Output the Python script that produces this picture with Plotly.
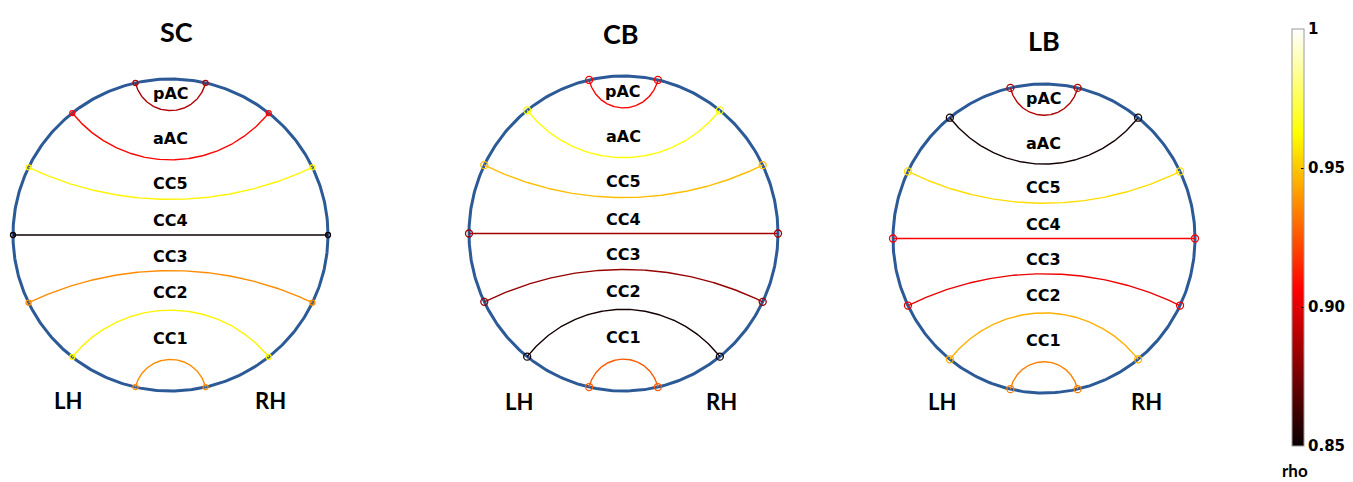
import numpy as np
import plotly.graph_objects as go
from plotly.colors import sample_colorscale

# ---------------- data ----------------
panels = ["SC", "CB", "LB"]
connections = ["pAC", "aAC", "CC5", "CC4", "CC3", "CC2", "CC1"]
rho_SC = [0.888, 0.907, 0.960, 0.850, 0.937, 0.960, 0.937]
rho_CB = [0.907, 0.963, 0.948, 0.885, 0.882, 0.852, 0.926]
rho_LB = [0.888, 0.852, 0.955, 0.905, 0.902, 0.945, 0.934]
rho_values = [rho_SC, rho_CB, rho_LB]
hemispheres = ["LH", "RH"]
cbar_ticks = [0.85, 0.90, 0.95, 1.0]
cbar_ticktext = ["0.85", "0.90", "0.95", "1"]
RHO_MIN, RHO_MAX = 0.85, 1.0

# ---------------- styling / layout ----------------
W, H = 1353, 482
OFF = 8  # page body margin in the browser
hot = [[0.0, "rgb(10,0,0)"], [0.375, "rgb(255,0,0)"], [0.75, "rgb(255,255,0)"], [1.0, "rgb(255,255,255)"]]
# pixel geometry of each panel (page pixels): centre x, centre y, radius x, radius y
geom = [(170.5, 235.0, 157.5, 156.0), (623.5, 233.5, 154.5, 157.5), (1044.0, 238.5, 151.0, 154.5)]
title_px = [(176, 31), (621, 33), (1044, 41)]
hemi_px = [((68, 400), (270, 400)), ((519, 401), (721, 401)), ((942, 401), (1146, 401))]
label_frac = [0.904, 0.617, 0.33, 0.09, -0.135, -0.367, -0.661]
S = 1.025
FONT_T = "Lato, 'DejaVu Sans', sans-serif"
FONT_L = "'DejaVu Sans', Verdana, sans-serif"


def px2paper(x, y):
    return min(max((x - OFF) / W, 0.0), 1.0), min(max(1 - (y - OFF) / H, 0.0), 1.0)


def color_of(v):
    return sample_colorscale(hot, [(v - RHO_MIN) / (RHO_MAX - RHO_MIN)])[0]


def chord(alpha):
    """geodesic (orthogonal-circle) arc joining (-sin a, cos a) and (sin a, cos a)"""
    if abs(np.cos(alpha)) < 1e-9:
        return np.array([-1.0, 1.0]), np.array([0.0, 0.0])
    c = 1.0 / np.cos(alpha)
    r = abs(np.tan(alpha))
    lx, ly = -np.sin(alpha), np.cos(alpha) - c
    rx_, ry_ = np.sin(alpha), np.cos(alpha) - c
    t1, t2 = np.arctan2(ly, lx), np.arctan2(ry_, rx_)
    t = np.linspace(t1, t2, 200)
    return r * np.cos(t), c + r * np.sin(t)


fig = go.Figure()
n = len(connections)
theta = np.linspace(0, 2 * np.pi, 400)
annotations = []

for i, name in enumerate(panels):
    ax = "" if i == 0 else str(i + 1)
    cx, cy, rx, ry = geom[i]
    x0, y1 = px2paper(cx - rx * S, cy - ry * S)
    x1, y0 = px2paper(cx + rx * S, cy + ry * S)
    fig.update_layout(**{
        f"xaxis{ax}": dict(domain=[x0, x1], range=[-S, S], visible=False, fixedrange=True, anchor=f"y{ax}"),
        f"yaxis{ax}": dict(domain=[y0, y1], range=[-S, S], visible=False, fixedrange=True, anchor=f"x{ax}"),
    })
    xr, yr = f"x{ax}", f"y{ax}"

    # outer circle
    fig.add_trace(go.Scatter(x=np.cos(theta), y=np.sin(theta), mode="lines",
                             line=dict(color="#2c5a97", width=3), hoverinfo="skip",
                             xaxis=xr, yaxis=yr))
    for k, conn in enumerate(connections):
        a = (k + 0.5) * np.pi / n
        xs, ys = chord(a)
        col = color_of(rho_values[i][k])
        fig.add_trace(go.Scatter(x=xs, y=ys, mode="lines", line=dict(color=col, width=1.4),
                                 name=f"{name} {conn}", hovertext=f"{conn}: rho={rho_values[i][k]}",
                                 hoverinfo="text", xaxis=xr, yaxis=yr))
        fig.add_trace(go.Scatter(x=[xs[0], xs[-1]], y=[ys[0], ys[-1]], mode="markers",
                                 marker=dict(symbol="circle-open", size=7 if i else 5,
                                             color=col, line=dict(width=1.3, color=col)),
                                 cliponaxis=False, hoverinfo="skip", xaxis=xr, yaxis=yr))
        annotations.append(dict(x=0, y=label_frac[k], xref=xr, yref=yr, text=f"<b>{conn}</b>",
                                xanchor="center", yanchor="middle", showarrow=False,
                                font=dict(family=FONT_L, size=16, color="black")))
    tx, ty = px2paper(*title_px[i])
    annotations.append(dict(x=tx, y=ty, xref="paper", yref="paper", text=f"<b>{name}</b>",
                            xanchor="center", yanchor="middle", showarrow=False,
                            font=dict(family=FONT_T, size=27, color="black")))
    for h, (hx, hy) in zip(hemispheres, hemi_px[i]):
        px_, py_ = px2paper(hx, hy)
        annotations.append(dict(x=px_, y=py_, xref="paper", yref="paper", text=f"<b>{h}</b>",
                                xanchor="center", yanchor="middle", showarrow=False,
                                font=dict(family=FONT_T, size=22, color="black")))

# colour bar
cb_top, cb_bot = 29, 446
cbx, cby = px2paper(1292, (cb_top + cb_bot) / 2)
fig.add_trace(go.Scatter(
    x=[0], y=[0], mode="markers", hoverinfo="skip", xaxis="x", yaxis="y",
    marker=dict(size=1, opacity=0, color=[RHO_MIN], cmin=RHO_MIN, cmax=RHO_MAX, colorscale=hot,
                showscale=True,
                colorbar=dict(x=cbx, xanchor="left", y=cby, yanchor="middle",
                              len=(cb_bot - cb_top) / H, lenmode="fraction", thickness=12,
                              thicknessmode="pixels", outlinewidth=1, outlinecolor="#9a9a9a",
                              tickvals=cbar_ticks, ticktext=[f"<b>{t}</b>" for t in cbar_ticktext],
                              ticks="inside", ticklen=3, tickcolor="black",
                              tickfont=dict(family=FONT_L, size=15, color="black"),
                              xpad=0, ypad=0))))
rx_, ry_ = px2paper(1295, 470)
annotations.append(dict(x=rx_, y=ry_, xref="paper", yref="paper", text="<b>rho</b>", showarrow=False,
                        xanchor="center", yanchor="middle",
                        font=dict(family=FONT_T, size=17, color="black")))

fig.update_layout(width=W, height=H, autosize=False,
                  margin=dict(l=0, r=0, t=0, b=0, pad=0, autoexpand=False),
                  paper_bgcolor="white", plot_bgcolor="white", showlegend=False,
                  annotations=annotations)
fig.write_html("out.html")
